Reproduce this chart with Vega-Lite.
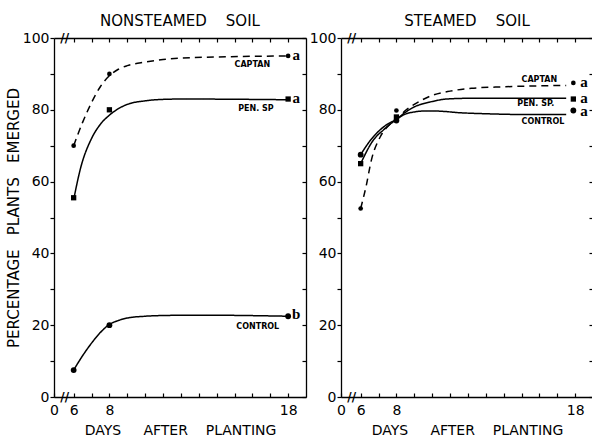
{
  "$schema": "https://vega.github.io/schema/vega-lite/v6.json",
  "background": "white",
  "padding": {"left": 6, "top": 14, "right": 0, "bottom": 0},
  "bounds": "flush",
  "spacing": 35,
  "datasets": {
    "curves": [
      {"panel": "N", "series": "CAPTAN", "day": 6, "pct": 70},
      {"panel": "N", "series": "CAPTAN", "day": 6.5, "pct": 76.5},
      {"panel": "N", "series": "CAPTAN", "day": 7, "pct": 82},
      {"panel": "N", "series": "CAPTAN", "day": 7.5, "pct": 86.5},
      {"panel": "N", "series": "CAPTAN", "day": 8, "pct": 89.5},
      {"panel": "N", "series": "CAPTAN", "day": 8.5, "pct": 91.3},
      {"panel": "N", "series": "CAPTAN", "day": 9, "pct": 92.3},
      {"panel": "N", "series": "CAPTAN", "day": 10, "pct": 93.3},
      {"panel": "N", "series": "CAPTAN", "day": 11, "pct": 94},
      {"panel": "N", "series": "CAPTAN", "day": 12, "pct": 94.4},
      {"panel": "N", "series": "CAPTAN", "day": 14, "pct": 94.7},
      {"panel": "N", "series": "CAPTAN", "day": 16, "pct": 94.9},
      {"panel": "N", "series": "CAPTAN", "day": 18, "pct": 95},
      {"panel": "N", "series": "PEN. SP", "day": 6, "pct": 55},
      {"panel": "N", "series": "PEN. SP", "day": 6.4, "pct": 64},
      {"panel": "N", "series": "PEN. SP", "day": 7, "pct": 72},
      {"panel": "N", "series": "PEN. SP", "day": 7.5, "pct": 76},
      {"panel": "N", "series": "PEN. SP", "day": 8, "pct": 78.5},
      {"panel": "N", "series": "PEN. SP", "day": 8.5, "pct": 80.3},
      {"panel": "N", "series": "PEN. SP", "day": 9, "pct": 81.5},
      {"panel": "N", "series": "PEN. SP", "day": 10, "pct": 82.5},
      {"panel": "N", "series": "PEN. SP", "day": 11, "pct": 82.9},
      {"panel": "N", "series": "PEN. SP", "day": 12, "pct": 83},
      {"panel": "N", "series": "PEN. SP", "day": 18, "pct": 82.8},
      {"panel": "N", "series": "CONTROL", "day": 6, "pct": 7.5},
      {"panel": "N", "series": "CONTROL", "day": 6.5, "pct": 11.5},
      {"panel": "N", "series": "CONTROL", "day": 7, "pct": 15},
      {"panel": "N", "series": "CONTROL", "day": 7.5, "pct": 18},
      {"panel": "N", "series": "CONTROL", "day": 8, "pct": 20.2},
      {"panel": "N", "series": "CONTROL", "day": 8.5, "pct": 21.3},
      {"panel": "N", "series": "CONTROL", "day": 9, "pct": 22},
      {"panel": "N", "series": "CONTROL", "day": 10, "pct": 22.5},
      {"panel": "N", "series": "CONTROL", "day": 11, "pct": 22.7},
      {"panel": "N", "series": "CONTROL", "day": 13, "pct": 22.8},
      {"panel": "N", "series": "CONTROL", "day": 18, "pct": 22.5},
      {"panel": "S", "series": "CAPTAN", "day": 6, "pct": 52.5},
      {"panel": "S", "series": "CAPTAN", "day": 6.3, "pct": 58.6},
      {"panel": "S", "series": "CAPTAN", "day": 6.6, "pct": 66},
      {"panel": "S", "series": "CAPTAN", "day": 7.1, "pct": 72.5},
      {"panel": "S", "series": "CAPTAN", "day": 7.6, "pct": 75.8},
      {"panel": "S", "series": "CAPTAN", "day": 8, "pct": 77.3},
      {"panel": "S", "series": "CAPTAN", "day": 8.5, "pct": 79.8},
      {"panel": "S", "series": "CAPTAN", "day": 9, "pct": 81.5},
      {"panel": "S", "series": "CAPTAN", "day": 10, "pct": 84},
      {"panel": "S", "series": "CAPTAN", "day": 11, "pct": 85.2},
      {"panel": "S", "series": "CAPTAN", "day": 12.2, "pct": 86},
      {"panel": "S", "series": "CAPTAN", "day": 14, "pct": 86.4},
      {"panel": "S", "series": "CAPTAN", "day": 17.5, "pct": 86.8},
      {"panel": "S", "series": "PEN. SP", "day": 6, "pct": 65},
      {"panel": "S", "series": "PEN. SP", "day": 6.7, "pct": 71.5},
      {"panel": "S", "series": "PEN. SP", "day": 7.3, "pct": 74.5},
      {"panel": "S", "series": "PEN. SP", "day": 7.6, "pct": 75.8},
      {"panel": "S", "series": "PEN. SP", "day": 8, "pct": 77.3},
      {"panel": "S", "series": "PEN. SP", "day": 8.5, "pct": 79.3},
      {"panel": "S", "series": "PEN. SP", "day": 9, "pct": 80.8},
      {"panel": "S", "series": "PEN. SP", "day": 10, "pct": 82.3},
      {"panel": "S", "series": "PEN. SP", "day": 10.8, "pct": 83},
      {"panel": "S", "series": "PEN. SP", "day": 12, "pct": 83.2},
      {"panel": "S", "series": "PEN. SP", "day": 17.5, "pct": 83.2},
      {"panel": "S", "series": "CONTROL", "day": 6, "pct": 67.5},
      {"panel": "S", "series": "CONTROL", "day": 6.5, "pct": 71.2},
      {"panel": "S", "series": "CONTROL", "day": 7, "pct": 74},
      {"panel": "S", "series": "CONTROL", "day": 7.5, "pct": 76},
      {"panel": "S", "series": "CONTROL", "day": 8, "pct": 77.3},
      {"panel": "S", "series": "CONTROL", "day": 8.4, "pct": 78.6},
      {"panel": "S", "series": "CONTROL", "day": 9, "pct": 79.4},
      {"panel": "S", "series": "CONTROL", "day": 9.7, "pct": 79.7},
      {"panel": "S", "series": "CONTROL", "day": 10.5, "pct": 79.6},
      {"panel": "S", "series": "CONTROL", "day": 11.5, "pct": 79.2},
      {"panel": "S", "series": "CONTROL", "day": 13, "pct": 78.9},
      {"panel": "S", "series": "CONTROL", "day": 15, "pct": 78.7},
      {"panel": "S", "series": "CONTROL", "day": 17.5, "pct": 78.7}
    ],
    "points": [
      {"panel": "N", "series": "CAPTAN", "day": 6, "pct": 70},
      {"panel": "N", "series": "CAPTAN", "day": 8, "pct": 90},
      {"panel": "N", "series": "CAPTAN", "day": 18, "pct": 95},
      {"panel": "N", "series": "PEN. SP", "day": 6, "pct": 55.5},
      {"panel": "N", "series": "PEN. SP", "day": 8, "pct": 80},
      {"panel": "N", "series": "PEN. SP", "day": 18, "pct": 83},
      {"panel": "N", "series": "CONTROL", "day": 6, "pct": 7.5},
      {"panel": "N", "series": "CONTROL", "day": 8, "pct": 20},
      {"panel": "N", "series": "CONTROL", "day": 18, "pct": 22.5},
      {"panel": "S", "series": "CAPTAN", "day": 6, "pct": 52.5},
      {"panel": "S", "series": "CAPTAN", "day": 8, "pct": 79.8},
      {"panel": "S", "series": "CAPTAN", "day": 17.9, "pct": 87.5},
      {"panel": "S", "series": "PEN. SP", "day": 6, "pct": 65},
      {"panel": "S", "series": "PEN. SP", "day": 8, "pct": 78},
      {"panel": "S", "series": "PEN. SP", "day": 17.9, "pct": 83},
      {"panel": "S", "series": "CONTROL", "day": 6, "pct": 67.5},
      {"panel": "S", "series": "CONTROL", "day": 8, "pct": 77},
      {"panel": "S", "series": "CONTROL", "day": 17.9, "pct": 79.8}
    ],
    "labels": [
      {"panel": "N", "text": "CAPTAN", "day": 16, "pct": 92.6},
      {"panel": "N", "text": "PEN. SP", "day": 16.2, "pct": 80.2},
      {"panel": "N", "text": "CONTROL", "day": 16.3, "pct": 19.6},
      {"panel": "S", "text": "CAPTAN", "day": 16, "pct": 88.3},
      {"panel": "S", "text": "PEN. SP.", "day": 15.8, "pct": 81.6},
      {"panel": "S", "text": "CONTROL", "day": 16.2, "pct": 76.7}
    ],
    "letters": [
      {"panel": "N", "text": "a", "day": 18.45, "pct": 95},
      {"panel": "N", "text": "a", "day": 18.45, "pct": 83},
      {"panel": "N", "text": "b", "day": 18.45, "pct": 22.8},
      {"panel": "S", "text": "a", "day": 18.5, "pct": 87.5},
      {"panel": "S", "text": "a", "day": 18.5, "pct": 83},
      {"panel": "S", "text": "a", "day": 18.5, "pct": 79.5}
    ],
    "breaks": [
      {"text": "//", "day": 5.5, "pct": 100},
      {"text": "//", "day": 5.5, "pct": 0}
    ]
  },
  "config": {
    "view": {"stroke": null},
    "axis": {
      "grid": false,
      "domainColor": "black",
      "domainWidth": 1.3,
      "tickColor": "black",
      "tickWidth": 1.2,
      "labelColor": "black",
      "titleColor": "black",
      "labelFont": "DejaVu Sans",
      "titleFont": "DejaVu Sans",
      "labelFontSize": 14,
      "titleFontSize": 14,
      "titleFontWeight": "normal"
    },
    "title": {"font": "DejaVu Sans", "fontSize": 15, "fontWeight": "normal", "color": "black", "anchor": "middle", "offset": 2},
    "text": {"color": "black"}
  },
  "hconcat": [
    {
      "width": 252,
      "height": 359,
      "title": "NONSTEAMED\u00a0\u00a0\u00a0\u00a0SOIL",
      "resolve": {"axis": {"x": "independent", "y": "independent"}},
      "layer": [
        {
          "data": {"name": "curves"},
          "transform": [{"filter": "datum.panel == 'N'"}],
          "mark": {"type": "line", "interpolate": "monotone", "color": "black", "strokeWidth": 1.5},
          "encoding": {
            "x": {"field": "day", "type": "quantitative", "scale": {"domain": [4.9, 19], "nice": false, "zero": false},
              "axis": {"orient": "bottom", "values": [4.9, 6, 7, 8, 9, 10, 11, 12, 13, 14, 15, 16, 17, 18],
                "labelExpr": "datum.value < 5 ? '0' : (datum.value == 6 || datum.value == 8 || datum.value == 18 ? datum.label : '')",
                "tickSize": -4, "labelPadding": 10, "labelFlush": false,
                "title": "DAYS\u00a0\u00a0\u00a0\u00a0\u00a0AFTER\u00a0\u00a0\u00a0\u00a0PLANTING", "titlePadding": 6}},
            "y": {"field": "pct", "type": "quantitative", "scale": {"domain": [0, 100], "nice": false},
              "axis": {"orient": "left", "values": [0, 10, 20, 30, 40, 50, 60, 70, 80, 90, 100],
                "labelExpr": "datum.value % 20 == 0 ? datum.label : ''",
                "tickSize": 4, "labelPadding": 1,
                "title": "PERCENTAGE\u00a0\u00a0\u00a0PLANTS\u00a0\u00a0\u00a0EMERGED", "titleFontSize": 15, "titlePadding": 1}},
            "detail": {"field": "series"},
            "strokeDash": {"field": "series", "type": "nominal", "scale": {"domain": ["CAPTAN", "PEN. SP", "CONTROL"], "range": [[7, 5], [1, 0], [1, 0]]}, "legend": null}
          }
        },
        {
          "data": {"name": "points"},
          "transform": [{"filter": "datum.panel == 'N'"}],
          "mark": {"type": "point", "filled": true, "color": "black", "opacity": 1},
          "encoding": {
            "x": {"field": "day", "type": "quantitative",
              "axis": {"orient": "top", "values": [6, 7, 8, 9, 10, 11, 12, 13, 14, 15, 16, 17, 18], "labels": false, "tickSize": -4, "title": null}},
            "y": {"field": "pct", "type": "quantitative",
              "axis": {"orient": "right", "values": [0, 10, 20, 30, 40, 50, 60, 70, 80, 90, 100], "labels": false, "tickSize": -4, "title": null}},
            "shape": {"field": "series", "type": "nominal", "scale": {"domain": ["CAPTAN", "PEN. SP", "CONTROL"], "range": ["circle", "square", "circle"]}, "legend": null},
            "size": {"field": "series", "type": "nominal", "scale": {"domain": ["CAPTAN", "PEN. SP", "CONTROL"], "range": [22, 34, 22]}, "legend": null}
          }
        },
        {
          "data": {"name": "labels"},
          "transform": [{"filter": "datum.panel == 'N'"}],
          "mark": {"type": "text", "font": "DejaVu Sans", "fontSize": 8, "fontWeight": "bold", "align": "center", "baseline": "middle"},
          "encoding": {
            "x": {"field": "day", "type": "quantitative", "axis": null},
            "y": {"field": "pct", "type": "quantitative", "axis": null},
            "text": {"field": "text"}
          }
        },
        {
          "data": {"name": "letters"},
          "transform": [{"filter": "datum.panel == 'N'"}],
          "mark": {"type": "text", "font": "Liberation Serif", "fontSize": 15, "fontWeight": "bold", "align": "center", "baseline": "middle", "dy": -1},
          "encoding": {
            "x": {"field": "day", "type": "quantitative", "axis": null},
            "y": {"field": "pct", "type": "quantitative", "axis": null},
            "text": {"field": "text"}
          }
        },
        {
          "data": {"name": "breaks"},
          "mark": {"type": "text", "font": "DejaVu Sans", "fontSize": 12, "fontWeight": "bold", "align": "center", "baseline": "middle"},
          "encoding": {
            "x": {"field": "day", "type": "quantitative", "axis": null},
            "y": {"field": "pct", "type": "quantitative", "axis": null},
            "text": {"field": "text"}
          }
        }
      ]
    },
    {
      "width": 252,
      "height": 359,
      "title": "STEAMED\u00a0\u00a0\u00a0\u00a0SOIL",
      "resolve": {"axis": {"x": "independent", "y": "independent"}},
      "layer": [
        {
          "data": {"name": "curves"},
          "transform": [{"filter": "datum.panel == 'S'"}],
          "mark": {"type": "line", "interpolate": "monotone", "color": "black", "strokeWidth": 1.5},
          "encoding": {
            "x": {"field": "day", "type": "quantitative", "scale": {"domain": [4.9, 19], "nice": false, "zero": false},
              "axis": {"orient": "bottom", "values": [4.9, 6, 7, 8, 9, 10, 11, 12, 13, 14, 15, 16, 17, 18],
                "labelExpr": "datum.value < 5 ? '0' : (datum.value == 6 || datum.value == 8 || datum.value == 18 ? datum.label : '')",
                "tickSize": -4, "labelPadding": 10, "labelFlush": false,
                "title": "DAYS\u00a0\u00a0\u00a0\u00a0\u00a0AFTER\u00a0\u00a0\u00a0\u00a0PLANTING", "titlePadding": 6}},
            "y": {"field": "pct", "type": "quantitative", "scale": {"domain": [0, 100], "nice": false},
              "axis": {"orient": "left", "values": [0, 10, 20, 30, 40, 50, 60, 70, 80, 90, 100],
                "labelExpr": "datum.value % 20 == 0 ? datum.label : ''",
                "tickSize": 4, "labelPadding": 1, "title": null}},
            "detail": {"field": "series"},
            "strokeDash": {"field": "series", "type": "nominal", "scale": {"domain": ["CAPTAN", "PEN. SP", "CONTROL"], "range": [[7, 5], [1, 0], [1, 0]]}, "legend": null}
          }
        },
        {
          "data": {"name": "points"},
          "transform": [{"filter": "datum.panel == 'S'"}],
          "mark": {"type": "point", "filled": true, "color": "black", "opacity": 1},
          "encoding": {
            "x": {"field": "day", "type": "quantitative",
              "axis": {"orient": "top", "values": [6, 7, 8, 9, 10, 11, 12, 13, 14, 15, 16, 17, 18], "labels": false, "tickSize": -4, "title": null}},
            "y": {"field": "pct", "type": "quantitative",
              "axis": {"orient": "right", "values": [0, 10, 20, 30, 40, 50, 60, 70, 80, 90, 100], "labels": false, "tickSize": -4, "title": null}},
            "shape": {"field": "series", "type": "nominal", "scale": {"domain": ["CAPTAN", "PEN. SP", "CONTROL"], "range": ["circle", "square", "circle"]}, "legend": null},
            "size": {"field": "series", "type": "nominal", "scale": {"domain": ["CAPTAN", "PEN. SP", "CONTROL"], "range": [22, 34, 22]}, "legend": null}
          }
        },
        {
          "data": {"name": "labels"},
          "transform": [{"filter": "datum.panel == 'S'"}],
          "mark": {"type": "text", "font": "DejaVu Sans", "fontSize": 8, "fontWeight": "bold", "align": "center", "baseline": "middle"},
          "encoding": {
            "x": {"field": "day", "type": "quantitative", "axis": null},
            "y": {"field": "pct", "type": "quantitative", "axis": null},
            "text": {"field": "text"}
          }
        },
        {
          "data": {"name": "letters"},
          "transform": [{"filter": "datum.panel == 'S'"}],
          "mark": {"type": "text", "font": "Liberation Serif", "fontSize": 15, "fontWeight": "bold", "align": "center", "baseline": "middle", "dy": -1},
          "encoding": {
            "x": {"field": "day", "type": "quantitative", "axis": null},
            "y": {"field": "pct", "type": "quantitative", "axis": null},
            "text": {"field": "text"}
          }
        },
        {
          "data": {"name": "breaks"},
          "mark": {"type": "text", "font": "DejaVu Sans", "fontSize": 12, "fontWeight": "bold", "align": "center", "baseline": "middle"},
          "encoding": {
            "x": {"field": "day", "type": "quantitative", "axis": null},
            "y": {"field": "pct", "type": "quantitative", "axis": null},
            "text": {"field": "text"}
          }
        }
      ]
    }
  ]
}
